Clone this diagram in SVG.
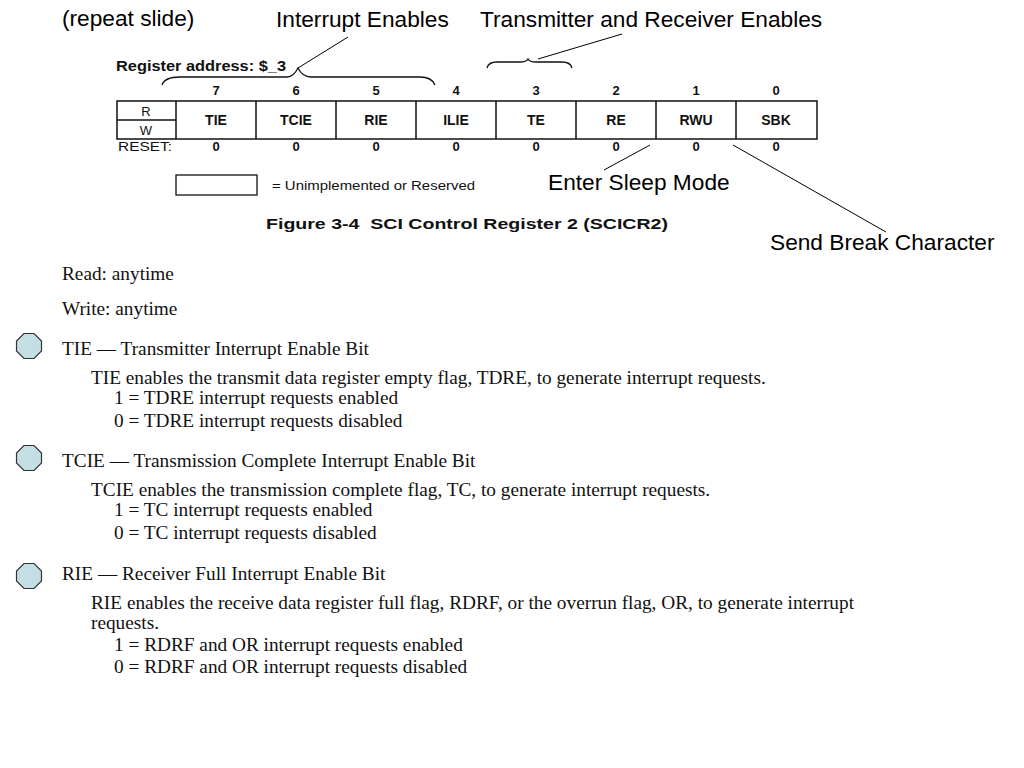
<svg xmlns="http://www.w3.org/2000/svg" width="1024" height="768" viewBox="0 0 1024 768">
<style>
.lbl{font-family:"Liberation Sans",Arial,sans-serif;font-size:22.7px;fill:#000}
.fb{font-family:"Liberation Sans",Arial,sans-serif;font-weight:bold;fill:#111}
.fr{font-family:"Liberation Sans",Arial,sans-serif;fill:#111}
.tx{font-family:"Liberation Serif","Times New Roman",serif;font-size:19.3px;fill:#111}
.ln{stroke:#000;stroke-width:1;fill:none}
.br{stroke:#111;stroke-width:1.3;fill:none}
.cell{stroke:#111;stroke-width:1.5;fill:none}
</style>
<defs>
<polygon id="oct" points="-5,-12.5 5,-12.5 12.5,-5 12.5,5 5,12.5 -5,12.5 -12.5,5 -12.5,-5" fill="#c3dfe3" stroke="#333" stroke-width="1.2"/>
</defs>
<rect width="1024" height="768" fill="#fff"/>

<g id="titles">
<text class="lbl" x="62" y="26">(repeat slide)</text>
<text class="lbl" x="276" y="27">Interrupt Enables</text>
<text class="lbl" x="480" y="27">Transmitter and Receiver Enables</text>
<text class="lbl" x="548" y="190">Enter Sleep Mode</text>
<text class="lbl" x="770" y="250">Send Break Character</text>
</g>

<g id="register">
<text class="fb" x="116" y="71" font-size="15" textLength="170" lengthAdjust="spacingAndGlyphs">Register address: $_3</text>
<g class="fb" font-size="13" text-anchor="middle">
<text x="216" y="95">7</text><text x="296" y="95">6</text><text x="376" y="95">5</text><text x="456" y="95">4</text>
<text x="536" y="95">3</text><text x="616" y="95">2</text><text x="696" y="95">1</text><text x="776" y="95">0</text>
</g>
<rect class="cell" x="117" y="101" width="700" height="38"/>
<line class="cell" x1="117" y1="120" x2="176" y2="120"/>
<g class="cell">
<line x1="176" y1="101" x2="176" y2="139"/><line x1="256" y1="101" x2="256" y2="139"/>
<line x1="336" y1="101" x2="336" y2="139"/><line x1="416" y1="101" x2="416" y2="139"/>
<line x1="496" y1="101" x2="496" y2="139"/><line x1="576" y1="101" x2="576" y2="139"/>
<line x1="656" y1="101" x2="656" y2="139"/><line x1="736" y1="101" x2="736" y2="139"/>
</g>
<g class="fr" font-size="13" text-anchor="middle">
<text x="146" y="116">R</text><text x="146" y="135">W</text>
</g>
<g class="fb" font-size="14" text-anchor="middle">
<text x="216" y="125">TIE</text><text x="296" y="125">TCIE</text><text x="376" y="125">RIE</text><text x="456" y="125">ILIE</text>
<text x="536" y="125">TE</text><text x="616" y="125">RE</text><text x="696" y="125">RWU</text><text x="776" y="125">SBK</text>
</g>
<text class="fr" x="118" y="151" font-size="13" textLength="54" lengthAdjust="spacingAndGlyphs">RESET:</text>
<g class="fb" font-size="13" text-anchor="middle">
<text x="216" y="151">0</text><text x="296" y="151">0</text><text x="376" y="151">0</text><text x="456" y="151">0</text>
<text x="536" y="151">0</text><text x="616" y="151">0</text><text x="696" y="151">0</text><text x="776" y="151">0</text>
</g>
<rect x="176" y="175" width="81" height="20" fill="none" stroke="#111" stroke-width="1.3"/>
<text class="fr" x="272" y="190" font-size="12" textLength="203" lengthAdjust="spacingAndGlyphs">= Unimplemented or Reserved</text>
<text class="fb" x="266" y="229" font-size="15" textLength="402" lengthAdjust="spacingAndGlyphs">Figure 3-4&#160; SCI Control Register 2 (SCICR2)</text>
</g>

<g id="connectors">
<path class="br" d="M162,85 C164,79 170,77 180,77 L287,77 C293,77 296,72 298,68 C300,72 304,77 311,77 L420,77 C428,77 433,80 435,85"/>
<path class="br" d="M487,68 C488,64 491,62 497,62 L520,62 C524,62 527,61 528,59 C529,61 532,62 536,62 L562,62 C568,62 571,64 572,68"/>
<line class="ln" x1="298" y1="68" x2="348" y2="37"/>
<line class="ln" x1="538" y1="59" x2="622" y2="34"/>
<line class="ln" x1="604" y1="170" x2="650" y2="145"/>
<line class="ln" x1="733" y1="145" x2="886" y2="232"/>
</g>

<g id="body">
<text class="tx" x="62" y="280">Read: anytime</text>
<text class="tx" x="62" y="315">Write: anytime</text>
</g>

<g id="tie">
<use href="#oct" x="29" y="346"/>
<text class="tx" x="62" y="355">TIE — Transmitter Interrupt Enable Bit</text>
<text class="tx" x="91" y="384">TIE enables the transmit data register empty flag, TDRE, to generate interrupt requests.</text>
<text class="tx" x="114" y="404">1 = TDRE interrupt requests enabled</text>
<text class="tx" x="114" y="427">0 = TDRE interrupt requests disabled</text>
</g>

<g id="tcie">
<use href="#oct" x="29" y="458"/>
<text class="tx" x="62" y="467">TCIE — Transmission Complete Interrupt Enable Bit</text>
<text class="tx" x="91" y="496">TCIE enables the transmission complete flag, TC, to generate interrupt requests.</text>
<text class="tx" x="114" y="516">1 = TC interrupt requests enabled</text>
<text class="tx" x="114" y="539">0 = TC interrupt requests disabled</text>
</g>

<g id="rie">
<use href="#oct" x="29" y="576"/>
<text class="tx" x="62" y="580">RIE — Receiver Full Interrupt Enable Bit</text>
<text class="tx" x="91" y="609">RIE enables the receive data register full flag, RDRF, or the overrun flag, OR, to generate interrupt</text>
<text class="tx" x="91" y="629">requests.</text>
<text class="tx" x="114" y="651">1 = RDRF and OR interrupt requests enabled</text>
<text class="tx" x="114" y="673">0 = RDRF and OR interrupt requests disabled</text>
</g>
</svg>
